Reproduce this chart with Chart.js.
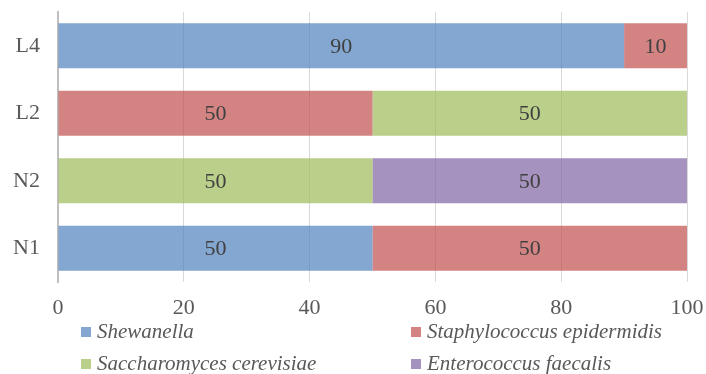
<!DOCTYPE html>
<html>
<head>
<meta charset="utf-8">
<script src="https://cdn.jsdelivr.net/npm/chart.js@4/dist/chart.umd.min.js"></script>
<style>
  html, body { margin: 0; padding: 0; background: #ffffff; }
  #wrap { width: 706px; height: 374px; }
</style>
</head>
<body>
<div id="wrap"><canvas id="c" width="706" height="374"></canvas></div>
<script>
// Samples, top to bottom
const samples = ['L4', 'L2', 'N2', 'N1'];

// Share (%) of each organism per sample
const shewanella     = [90, 0, 0, 50];
const staphylococcus = [10, 50, 0, 50];
const saccharomyces  = [0, 50, 50, 0];
const enterococcus   = [0, 0, 50, 0];

const seriesNames = [
  'Shewanella',
  'Staphylococcus epidermidis',
  'Saccharomyces cerevisiae',
  'Enterococcus faecalis'
];

const xTicks = [0, 20, 40, 60, 80, 100];

const SERIF = '"Liberation Serif", "Times New Roman", Times, serif';
const TEXT = '#595959';

const fills = [
  'rgba(79,129,189,0.7)',
  'rgba(192,80,77,0.7)',
  'rgba(155,187,89,0.7)',
  'rgba(128,100,162,0.7)'
];

// Value labels centred inside each segment
const segmentLabels = {
  id: 'segmentLabels',
  afterDatasetsDraw(chart) {
    const ctx = chart.ctx;
    ctx.save();
    ctx.font = '22px ' + SERIF;
    ctx.fillStyle = '#404040';
    ctx.textAlign = 'center';
    ctx.textBaseline = 'middle';
    chart.data.datasets.forEach((ds, i) => {
      const meta = chart.getDatasetMeta(i);
      meta.data.forEach((el, j) => {
        const v = ds.data[j];
        if (!v) return;
        const p = el.getCenterPoint();
        ctx.fillText(String(v), p.x, p.y + 1);
      });
    });
    ctx.restore();
  }
};

// Two-column legend below the axis (baseline per row)
const gridLegend = {
  id: 'gridLegend',
  afterDraw(chart) {
    const ctx = chart.ctx;
    const cols = [81, 411];
    const baselines = [338, 370];
    ctx.save();
    ctx.font = 'italic 21px ' + SERIF;
    ctx.textBaseline = 'alphabetic';
    ctx.textAlign = 'left';
    chart.data.datasets.forEach((ds, i) => {
      const x = cols[i % 2];
      const b = baselines[Math.floor(i / 2)];
      ctx.fillStyle = ds.backgroundColor;
      ctx.fillRect(x, b - 11, 10, 10);
      ctx.fillStyle = TEXT;
      ctx.fillText(ds.label, x + 16, b);
    });
    ctx.restore();
  }
};

const seriesData = [shewanella, staphylococcus, saccharomyces, enterococcus];

new Chart(document.getElementById('c'), {
  type: 'bar',
  data: {
    labels: samples,
    datasets: seriesData.map((d, i) => ({
      label: seriesNames[i],
      data: d,
      backgroundColor: fills[i],
      borderWidth: 0,
      categoryPercentage: 1,
      barPercentage: 0.667
    }))
  },
  options: {
    indexAxis: 'y',
    responsive: false,
    animation: false,
    devicePixelRatio: 1,
    layout: { padding: { top: 12, right: 19, left: 0, bottom: 0 } },
    plugins: {
      legend: { display: false },
      tooltip: { enabled: false }
    },
    scales: {
      x: {
        stacked: true,
        min: 0,
        max: 100,
        afterBuildTicks(scale) { scale.ticks = xTicks.map(v => ({ value: v })); },
        afterFit(scale) {
          scale.height = 92;
          scale.paddingLeft = 0;
          scale.paddingRight = 0;
        },
        grid: { color: '#d9d9d9', lineWidth: 1, drawTicks: false },
        border: { display: false },
        ticks: {
          padding: 13,
          color: TEXT,
          font: { family: SERIF, size: 22 }
        }
      },
      y: {
        stacked: true,
        afterFit(scale) {
          scale.width = 58;
          scale.paddingTop = 0;
          scale.paddingBottom = 0;
        },
        grid: { display: false, drawTicks: false },
        border: { display: true, color: '#bfbfbf', width: 2 },
        ticks: {
          padding: 18,
          color: TEXT,
          font: { family: SERIF, size: 22 }
        }
      }
    }
  },
  plugins: [segmentLabels, gridLegend]
});
</script>
</body>
</html>
